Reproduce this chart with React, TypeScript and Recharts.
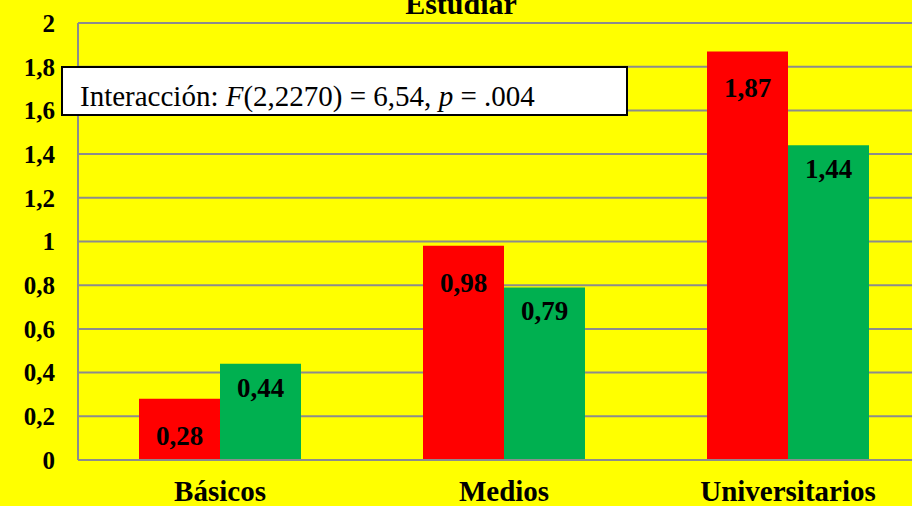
import React from 'react';
import { BarChart, Bar, XAxis, YAxis, CartesianGrid, LabelList } from 'recharts';

const categories = ['Básicos', 'Medios', 'Universitarios'];
const redValues = [0.28, 0.98, 1.87];
const greenValues = [0.44, 0.79, 1.44];
const yTicks = [0, 0.2, 0.4, 0.6, 0.8, 1, 1.2, 1.4, 1.6, 1.8, 2];
const chartTitle = 'Estudiar';

const data = categories.map((name, i) => ({
  name,
  red: redValues[i],
  green: greenValues[i],
}));

const SERIF = '"Liberation Serif", "Times New Roman", serif';
const GRID = '#8c8c8c';

const fmt = (v: number) => String(v).replace('.', ',');

// etiqueta dentro de la barra, desplazada hacia abajo desde el borde superior
const makeLabel = (dy: number) => (props: any) => {
  const { x, y, width, value } = props;
  return (
    <text
      x={x + width / 2}
      y={y + dy}
      textAnchor="middle"
      dominantBaseline="central"
      fontFamily={SERIF}
      fontWeight="bold"
      fontSize={27}
      fill="#000"
    >
      {Number(value).toFixed(2).replace('.', ',')}
    </text>
  );
};

const App = () => {
  return (
    <div
      style={{
        position: 'fixed',
        left: 0,
        top: 0,
        width: 912,
        height: 506,
        overflow: 'hidden',
        background: '#FFFF00',
      }}
    >
      <BarChart
        width={930}
        height={506}
        data={data}
        margin={{ top: 23, right: 0, left: 0, bottom: 0 }}
        barCategoryGap={61}
        barGap={0}
      >
        <CartesianGrid vertical={false} stroke={GRID} strokeWidth={2} />
        <XAxis
          dataKey="name"
          height={46}
          tickLine={false}
          tickSize={0}
          tickMargin={20}
          axisLine={{ stroke: GRID, strokeWidth: 2 }}
          tick={{ fontFamily: SERIF, fontWeight: 'bold', fontSize: 29, fill: '#000' }}
        />
        <YAxis
          width={78}
          domain={[0, 2]}
          ticks={yTicks}
          interval={0}
          tickLine={false}
          tickSize={0}
          tickMargin={23}
          tickFormatter={fmt}
          axisLine={{ stroke: GRID, strokeWidth: 2 }}
          tick={{ fontFamily: SERIF, fontWeight: 'bold', fontSize: 25, fill: '#000' }}
        />
        <Bar dataKey="red" fill="#FF0000" isAnimationActive={false}>
          <LabelList dataKey="red" content={makeLabel(37)} />
        </Bar>
        <Bar dataKey="green" fill="#00B050" isAnimationActive={false}>
          <LabelList dataKey="green" content={makeLabel(24)} />
        </Bar>
      </BarChart>

      <div
        style={{
          position: 'absolute',
          left: 261,
          top: -11,
          width: 400,
          textAlign: 'center',
          fontFamily: SERIF,
          fontWeight: 'bold',
          fontSize: 30,
          lineHeight: '30px',
        }}
      >
        {chartTitle}
      </div>

      <div
        style={{
          position: 'absolute',
          left: 61,
          top: 66,
          width: 567,
          height: 50,
          boxSizing: 'border-box',
          border: '2px solid #000',
          background: '#fff',
          paddingLeft: 17,
          paddingTop: 14,
          fontFamily: SERIF,
          fontSize: 29,
          lineHeight: '28px',
          whiteSpace: 'nowrap',
        }}
      >
        Interacción: <i>F</i>(2,2270) = 6,54, <i>p</i> = .004
      </div>
    </div>
  );
};

export default App;
